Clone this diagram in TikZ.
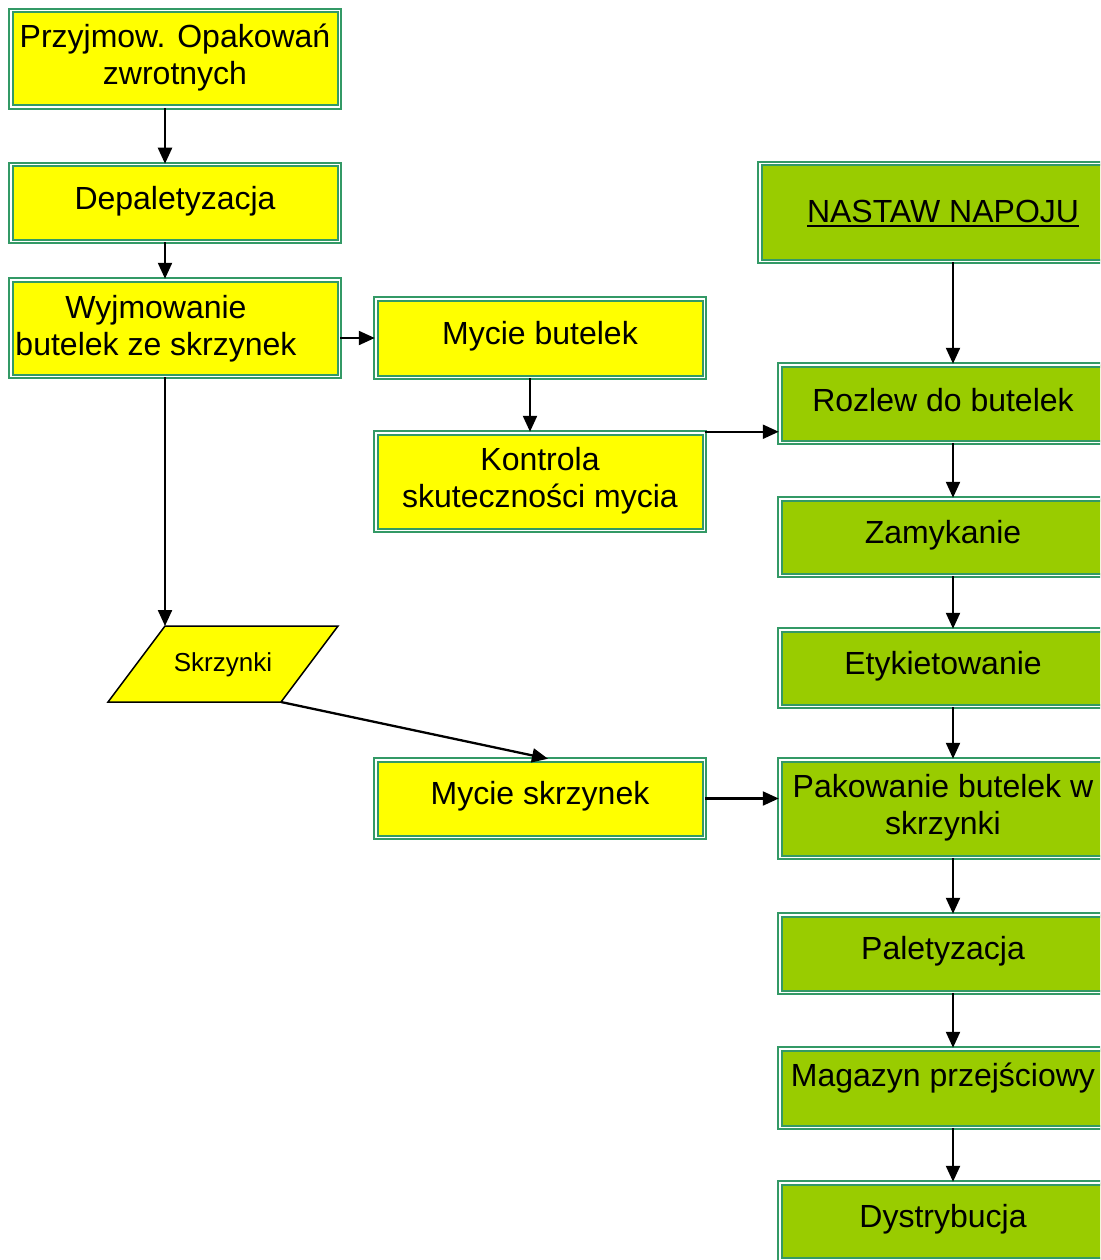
\documentclass[tikz,border=0pt]{standalone}
\usepackage{fontspec}
\setmainfont{Liberation Sans}
\usetikzlibrary{arrows.meta}
\definecolor{bordgreen}{RGB}{51,153,102}
\definecolor{boxyellow}{RGB}{255,255,0}
\definecolor{boxgreen}{RGB}{153,204,0}
\newcommand\ulinetxt[1]{\setbox0\hbox{#1}\rlap{\rule[-5pt]{\wd0}{2.5pt}}\box0}
\begin{document}
\begin{tikzpicture}[x=1pt,y=-1pt,
  basebox/.style={draw=bordgreen, double=white, line width=2pt, double distance=1.5pt, inner sep=0pt, minimum width=328.5pt},
  ybox/.style={basebox, fill=boxyellow},
  gbox/.style={basebox, fill=boxgreen, minimum width=326.5pt},
  txt/.style={font=\fontsize{32}{37}\selectfont, align=center, inner sep=0pt, yshift=2pt},
  arr/.style={-{Triangle[length=16pt,width=14pt]}, line width=2.3pt, draw=black}]
\useasboundingbox (0,0) rectangle (1100,1260);
\clip (0,0) rectangle (1100,1260);
\fill[white] (0,0) rectangle (1100,1260);
% guide coordinates
\coordinate (cx) at (165,0);
\coordinate (c530) at (530,0);
\coordinate (c548) at (548,0);
\coordinate (c953) at (953,0);
% left column
\node[ybox, minimum height=96.5pt, label={[txt, yshift=-0.5pt]center:Przyjmow. Opakowań\\zwrotnych}] (p1) at (175,59) {};
\node[ybox, minimum height=76.5pt, label={[txt]center:Depaletyzacja}] (p2) at (175,203) {};
\node[ybox, minimum height=96.5pt, label={[txt, xshift=-19pt, yshift=-3pt]center:Wyjmowanie\\butelek ze skrzynek}] (p3) at (175,328) {};
% middle column
\node[ybox, minimum height=78.5pt, label={[txt]center:Mycie butelek}] (p4) at (540,338) {};
\node[ybox, minimum height=97.5pt, label={[txt, yshift=-1pt]center:Kontrola\\skuteczności mycia}] (p5) at (540,481.5) {};
\node[ybox, minimum height=77.5pt, label={[txt]center:Mycie skrzynek}] (p7) at (540,798.5) {};
% parallelogram
\coordinate (sktl) at (165,626);
\coordinate (sktr) at (338,626);
\coordinate (skbr) at (281,702);
\coordinate (skbl) at (108,702);
\draw[fill=boxyellow, line width=1.5pt, line join=miter] (sktl) -- (sktr) -- (skbr) -- (skbl) -- cycle;
\node[font=\fontsize{26}{30}\selectfont, inner sep=0pt] (sk) at (223,665) {Skrzynki};
% right column
\node[basebox, fill=boxgreen, minimum width=366.5pt, minimum height=97.5pt, label={[txt, yshift=-3pt]center:\ulinetxt{NASTAW NAPOJU}}] (ns) at (943,212.5) {};
\node[gbox, minimum height=77.5pt, label={[txt, yshift=1pt]center:Rozlew do butelek}] (r1) at (943,403.5) {};
\node[gbox, minimum height=76.5pt, label={[txt]center:Zamykanie}] (r2) at (943,537) {};
\node[gbox, minimum height=76.5pt, label={[txt]center:Etykietowanie}] (r3) at (943,668) {};
\node[gbox, minimum height=97.5pt, label={[txt, yshift=-1pt]center:Pakowanie butelek w\\skrzynki}] (r4) at (943,808.5) {};
\node[gbox, minimum height=77.5pt, label={[txt]center:Paletyzacja}] (r5) at (943,953.5) {};
\node[gbox, minimum height=78.5pt, label={[txt, yshift=8pt]center:Magazyn przejściowy}] (r6) at (943,1088) {};
\node[gbox, minimum height=76.5pt, label={[txt]center:Dystrybucja}] (r7) at (943,1221) {};
% connectors
\draw[arr] (p1.south -| cx) -- (p2.north -| cx);
\draw[arr] (p2.south -| cx) -- (p3.north -| cx);
\draw[arr] (p3.east |- p4.west) -- (p4.west);
\draw[arr] (p4.south -| c530) -- (p5.north -| c530);
\draw[arr] (p3.south -| cx) -- (sktl);
\draw[arr] (skbr) -- (p7.north -| c548);
\draw[arr] (p5.north east) -- (p5.north east -| r1.west);
\draw[arr] (p7.east) -- (p7.east -| r4.west);
\draw[arr] (ns.south -| c953) -- (r1.north -| c953);
\draw[arr] (r1.south -| c953) -- (r2.north -| c953);
\draw[arr] (r2.south -| c953) -- (r3.north -| c953);
\draw[arr] (r3.south -| c953) -- (r4.north -| c953);
\draw[arr] (r4.south -| c953) -- (r5.north -| c953);
\draw[arr] (r5.south -| c953) -- (r6.north -| c953);
\draw[arr] (r6.south -| c953) -- (r7.north -| c953);
\end{tikzpicture}
\end{document}
